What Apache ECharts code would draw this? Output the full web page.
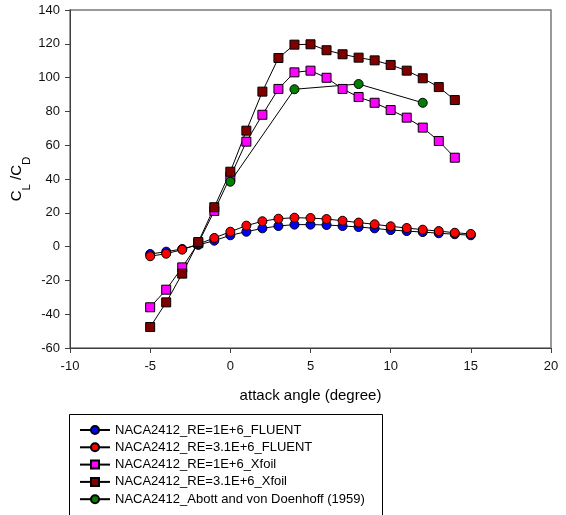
<!DOCTYPE html>
<html>
<head>
<meta charset="utf-8">
<script src="https://cdn.jsdelivr.net/npm/echarts@6/dist/echarts.min.js"></script>
<style>
  html, body { margin: 0; padding: 0; background: #fff; }
  #chart { width: 566px; height: 515px; }
</style>
</head>
<body>
<div id="chart"></div>
<script>
// Angle of attack (degrees) for each data set
const anglesFluent = [-5, -4, -3, -2, -1, 0, 1, 2, 3, 4, 5, 6, 7, 8, 9, 10, 11, 12, 13, 14, 15];
const anglesXfoil = [-5, -4, -3, -2, -1, 0, 1, 2, 3, 4, 5, 6, 7, 8, 9, 10, 11, 12, 13, 14];
const anglesAbott = [0, 4, 8, 12];

// Lift-to-drag ratio CL/CD
const fluentRe1 = [-4.4, -3.0, -1.4, 1.0, 3.5, 6.7, 8.8, 10.8, 12.2, 13.0, 13.0, 12.8, 12.2, 11.6, 10.8, 9.8, 9.2, 8.6, 7.9, 7.3, 6.7];
const fluentRe31 = [-5.7, -4.2, -1.8, 1.5, 5.1, 8.8, 12.4, 15.0, 16.5, 17.1, 16.9, 16.3, 15.3, 14.2, 13.2, 12.0, 11.0, 10.0, 9.2, 8.2, 7.5];
const xfoilRe1 = [-35.9, -25.5, -12.3, 2.0, 21.1, 41.4, 62.1, 78.0, 93.3, 103.1, 104.1, 99.9, 93.3, 88.5, 85.1, 80.8, 76.3, 70.4, 62.5, 52.6];
const xfoilRe31 = [-47.6, -33.0, -16.0, 2.7, 23.3, 44.3, 68.6, 91.7, 111.6, 119.5, 119.7, 116.2, 113.8, 111.8, 110.2, 107.5, 104.1, 99.6, 94.4, 86.7];
const abott = [38.4, 93.1, 96.2, 85.1];

// Axis ranges and ticks
const xTicks = { min: -10, max: 20, step: 5 };
const yTicks = { min: -60, max: 140, step: 20 };

const seriesNames = [
  'NACA2412_RE=1E+6_FLUENT',
  'NACA2412_RE=3.1E+6_FLUENT',
  'NACA2412_RE=1E+6_Xfoil',
  'NACA2412_RE=3.1E+6_Xfoil',
  'NACA2412_Abott and von Doenhoff (1959)'
];

const FONT = '"Liberation Sans", Arial, sans-serif';

function pairs(xs, ys) {
  return xs.map((x, i) => [x, ys[i]]);
}

function lineSeries(name, xs, ys, symbol, fill) {
  return {
    name: name,
    type: 'line',
    data: pairs(xs, ys),
    symbol: symbol,
    symbolSize: 9,
    showAllSymbol: true,
    lineStyle: { color: '#000', width: 1 },
    itemStyle: { color: fill, borderColor: '#000', borderWidth: 1 },
    emphasis: { disabled: true },
    animation: false
  };
}

const chart = echarts.init(document.getElementById('chart'), null, { renderer: 'canvas' });

chart.setOption({
  backgroundColor: '#fff',
  animation: false,
  grid: {
    left: 70, right: 15, top: 10, bottom: 167,
    show: true, borderColor: '#7a7a7a', borderWidth: 1.5, backgroundColor: 'transparent'
  },
  xAxis: {
    type: 'value',
    min: xTicks.min, max: xTicks.max, interval: xTicks.step,
    name: 'attack angle (degree)',
    nameLocation: 'middle',
    nameGap: 40,
    nameTextStyle: { fontFamily: FONT, fontSize: 15, color: '#000' },
    axisLine: { show: true, onZero: false, lineStyle: { color: '#404040', width: 1 } },
    axisTick: { show: true, length: 5, lineStyle: { color: '#404040' } },
    axisLabel: { fontFamily: FONT, fontSize: 13, color: '#111', margin: 12 },
    splitLine: { show: false }
  },
  yAxis: {
    type: 'value',
    min: yTicks.min, max: yTicks.max, interval: yTicks.step,
    axisLine: { show: true, onZero: false, lineStyle: { color: '#404040', width: 1 } },
    axisTick: { show: true, length: 5, lineStyle: { color: '#404040' } },
    axisLabel: { fontFamily: FONT, fontSize: 13, color: '#111', margin: 10 },
    splitLine: { show: false }
  },
  legend: {
    orient: 'vertical',
    left: 69, top: 414,
    padding: [9.5, 9, 3, 10],
    itemGap: 4.3,
    itemWidth: 30,
    itemHeight: 10,
    selectedMode: false,
    textStyle: { fontFamily: FONT, fontSize: 13, color: '#000' },
    data: seriesNames
  },
  graphic: [{
    // legend frame, running past the bottom edge
    type: 'rect',
    shape: { x: 69.5, y: 414.5, width: 313, height: 120 },
    style: { fill: 'none', stroke: '#000', lineWidth: 1 },
    silent: true
  }, {
    type: 'text',
    x: 21, y: 179,
    rotation: Math.PI / 2,
    style: {
      text: '{c|C}{s|L}{c| /C}{s|D}',
      align: 'center',
      verticalAlign: 'middle',
      fill: '#000',
      rich: {
        c: { fontFamily: FONT, fontSize: 15, lineHeight: 23, verticalAlign: 'top', fill: '#000' },
        s: { fontFamily: FONT, fontSize: 11.5, lineHeight: 23, verticalAlign: 'bottom', fill: '#000' }
      }
    }
  }],
  series: [
    lineSeries(seriesNames[0], anglesFluent, fluentRe1, 'circle', '#0000ff'),
    lineSeries(seriesNames[1], anglesFluent, fluentRe31, 'circle', '#ff0000'),
    lineSeries(seriesNames[2], anglesXfoil, xfoilRe1, 'rect', '#ff00ff'),
    lineSeries(seriesNames[3], anglesXfoil, xfoilRe31, 'rect', '#800000'),
    lineSeries(seriesNames[4], anglesAbott, abott, 'circle', '#008000')
  ]
});
</script>
</body>
</html>
